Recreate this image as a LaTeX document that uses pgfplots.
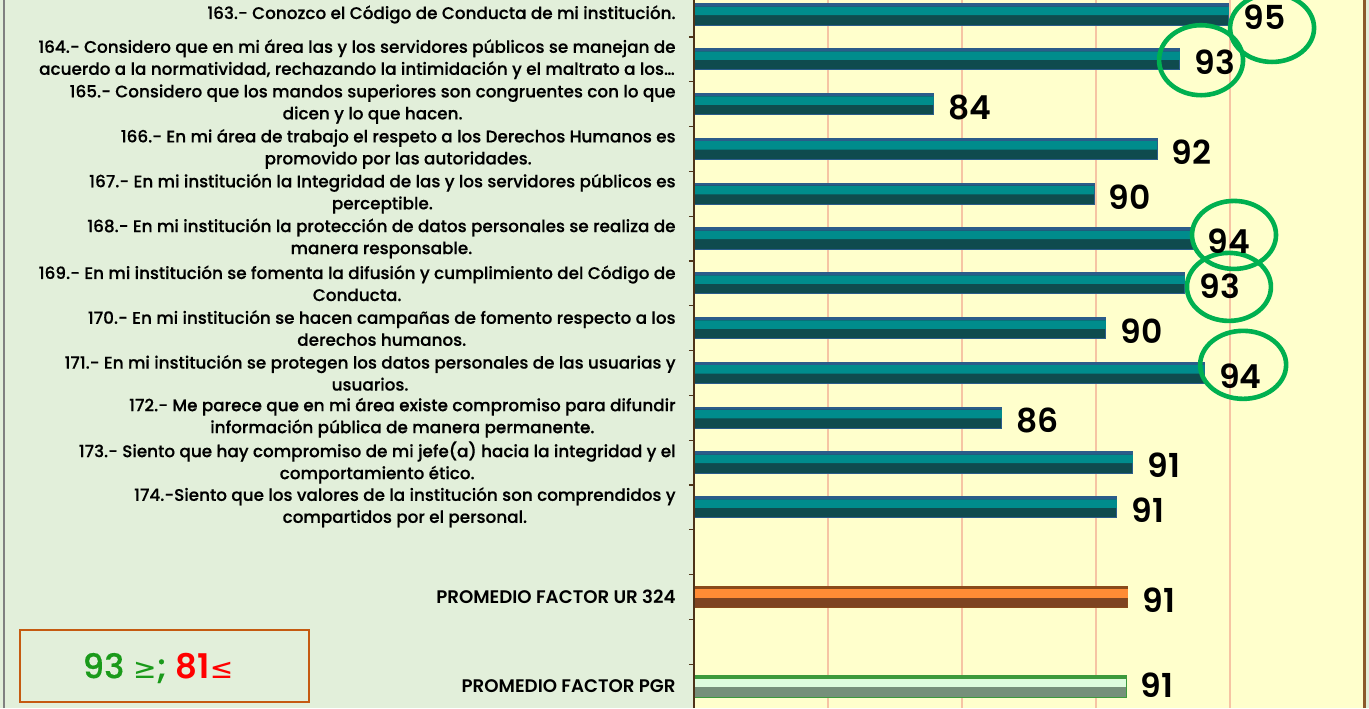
\documentclass[border=0pt]{standalone}
\usepackage{fontspec}
\setmainfont{Poppins}
\newfontfamily\lab{Poppins Medium}[FakeBold=0.4]
\newfontfamily\val{Poppins SemiBold}
\newfontfamily\sym{DejaVu Sans}
\usepackage{pgfplots}
\pgfplotsset{compat=1.18}
\usepackage{pgfplotstable}

\definecolor{panel}{HTML}{E2EFDA}
\definecolor{plotbg}{HTML}{FFFFCC}
\definecolor{gridc}{HTML}{F6C4A4}
\definecolor{tealD}{HTML}{0F4B4E}
\definecolor{tealL}{HTML}{008C8C}
\definecolor{tealE}{HTML}{2B5C8A}
\definecolor{oraD}{HTML}{7E4421}
\definecolor{oraL}{HTML}{FF8C35}
\definecolor{oraE}{HTML}{8A4A1A}
\definecolor{pgrD}{HTML}{76907A}
\definecolor{pgrL}{HTML}{DDFCDD}
\definecolor{pgrE}{HTML}{3C9A3C}
\definecolor{ring}{HTML}{00B050}
\definecolor{okgreen}{HTML}{1A9A1A}
\definecolor{boxc}{HTML}{C55A11}
\definecolor{axisc}{HTML}{4D3319}
\definecolor{framec}{HTML}{8B5A2B}

% v = bar length, y = row (163 at the top), lab = printed value
\pgfplotstableread{
v y lab
94.96 15 95
93.13 14 93
83.94 13 84
92.28 12 92
89.93 11 90
93.62 10 94
93.32 9 93
90.37 8 90
94.05 7 94
86.49 6 86
91.38 5 91
90.78 4 91
}\items
\pgfplotstableread{
v y lab
91.19 2 91
}\urtab
\pgfplotstableread{
v y lab
91.12 0 91
}\pgrtab

\pgfplotsset{
  basebar/.style 2 args={xbar, bar width=0.47, bar shift=0, fill=#1, draw=#2, line width=0.5pt,
    point meta=explicit symbolic, nodes near coords,
    nodes near coords style={font=\val\fontsize{16.5}{16.5}\selectfont, text=black,
      anchor=west, inner sep=0pt, xshift=7pt, yshift=-1.5pt}},
  lightband/.style={xbar, bar width=0.19, bar shift=0.08, fill=#1, draw=none},
  topband/.style={xbar, bar width=0.055, bar shift=0.206, fill=#1, draw=none},
}

\begin{document}
\begin{tikzpicture}
\useasboundingbox (0,0) rectangle (684.5pt,354pt);
\clip (0,0) rectangle (684.5pt,354pt);
\fill[panel] (0,0) rectangle (684.5pt,354pt);
\draw[gray, line width=1pt] (1.75pt,0) -- (1.75pt,354pt);
\draw[boxc, line width=0.8pt] (10pt,3pt) rectangle (154.5pt,39pt);
\node[font=\lab\fontsize{17}{17}\selectfont] at (79pt,20pt)
  {\textcolor{okgreen}{93 {\sym\fontsize{14}{14}\selectfont ≥};} \textcolor{red}{\val 81{\sym\fontsize{14}{14}\selectfont ≤}}};

\begin{axis}[
  at={(347pt,0pt)}, anchor=south west,
  scale only axis, width=335pt, height=354pt,
  xmin=75, xmax=100, ymin=-0.48, ymax=15.324,
  axis line style={draw=none},
  axis background/.style={fill=plotbg},
  xtick={80,85,90,95}, xticklabels={},
  xmajorgrids, major grid style={gridc, line width=0.6pt},
  ytick={0,...,15},
  minor ytick={0.5,1.5,...,14.5},
  ytick pos=left, xtick pos=bottom,
  tick align=outside,
  major tick length=0pt, minor tick length=2.6pt,
  every minor tick/.append style={axisc, line width=0.6pt},
  yticklabel style={align=center, inner sep=0pt, text=black,
    font=\lab\fontsize{8.4}{11}\selectfont},
  yticklabel shift=9pt,
  yticklabels={
    {\val\fontsize{9.1}{11}\selectfont PROMEDIO FACTOR PGR},
    {},
    {\val\fontsize{9.1}{11}\selectfont PROMEDIO FACTOR UR 324},
    {},
    {174.-Siento que los valores de la institución son comprendidos y\\compartidos por el personal.},
    {173.- Siento que hay compromiso de mi jefe(a) hacia la integridad y el\\comportamiento ético.},
    {172.- Me parece que en mi área existe compromiso para difundir\\información pública de manera permanente.},
    {171.- En mi institución se protegen los datos personales de las usuarias y\\usuarios.},
    {170.- En mi institución se hacen campañas de fomento respecto a los\\derechos humanos.},
    {169.- En mi institución se fomenta la difusión y cumplimiento del Código de\\Conducta.},
    {168.- En mi institución la protección de datos personales se realiza de\\manera responsable.},
    {167.- En mi institución la Integridad de las y los servidores públicos es\\perceptible.},
    {166.- En mi área de trabajo el respeto a los Derechos Humanos es\\promovido por las autoridades.},
    {165.- Considero que los mandos superiores son congruentes con lo que\\dicen y lo que hacen.},
    {164.- Considero que en mi área las y los servidores públicos se manejan de\\acuerdo a la normatividad, rechazando la intimidación y el maltrato a los…},
    {163.- Conozco el Código de Conducta de mi institución.}
  },
]
\addplot[basebar={tealD}{tealE}] table[x=v, y=y, meta=lab] {\items};
\addplot[lightband=tealL] table[x=v, y=y] {\items};
\addplot[topband=tealE] table[x=v, y=y] {\items};

\addplot[basebar={oraD}{oraE}] table[x=v, y=y, meta=lab] {\urtab};
\addplot[lightband=oraL] table[x=v, y=y] {\urtab};
\addplot[topband=oraE] table[x=v, y=y] {\urtab};

\addplot[basebar={pgrD}{pgrE}, every node near coord/.append style={yshift=2pt}] table[x=v, y=y, meta=lab] {\pgrtab};
\addplot[lightband=pgrL] table[x=v, y=y] {\pgrtab};
\addplot[topband=pgrE] table[x=v, y=y] {\pgrtab};

\draw[ring, line width=2.3pt] (axis cs:96.57,14.70) ellipse [x radius=21pt, y radius=17pt];
\draw[ring, line width=2.3pt] (axis cs:93.92,13.98) ellipse [x radius=21pt, y radius=17.5pt];
\draw[ring, line width=2.3pt] (axis cs:95.15,10.08) ellipse [x radius=21pt, y radius=17pt];
\draw[ring, line width=2.3pt] (axis cs:94.96,8.92) ellipse [x radius=21pt, y radius=17pt];
\draw[ring, line width=2.3pt] (axis cs:95.49,7.18) ellipse [x radius=21.5pt, y radius=17pt];
\end{axis}
\draw[axisc, line width=1pt] (347pt,0) -- (347pt,354pt);
\draw[framec, line width=1.2pt] (682.2pt,0) -- (682.2pt,354pt);
\end{tikzpicture}
\end{document}
